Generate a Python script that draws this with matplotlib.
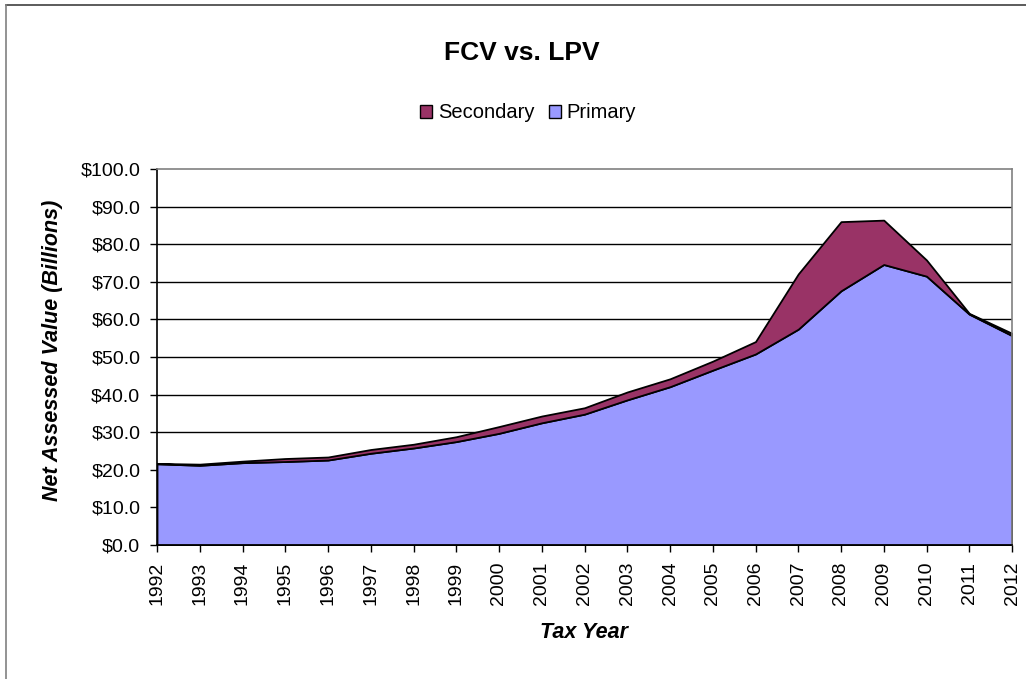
import matplotlib
matplotlib.use("Agg")
import matplotlib.pyplot as plt
from matplotlib.patches import Patch
from matplotlib.lines import Line2D

# Data (billions of dollars)
years = list(range(1992, 2013))
primary = [21.6, 21.2, 21.9, 22.2, 22.6, 24.4, 25.8, 27.5, 29.7, 32.5, 34.8,
           38.6, 42.1, 46.5, 50.8, 57.4, 67.6, 74.6, 71.5, 61.4, 55.7]
secondary = [0.1, 0.3, 0.4, 0.8, 0.8, 1.0, 1.0, 1.3, 1.8, 1.8, 1.7,
             2.1, 2.1, 2.4, 3.3, 14.7, 18.4, 11.8, 4.3, 0.2, 0.6]
y_ticks = [0, 10, 20, 30, 40, 50, 60, 70, 80, 90, 100]

primary_color = '#9999FF'
secondary_color = '#993366'

plt.rcParams['font.family'] = ['Liberation Sans', 'DejaVu Sans']

W, H = 1026, 679
fig = plt.figure(figsize=(W / 100, H / 100), dpi=100)
# plot area: x 157..1012, y 169..545 (pixels from top)
ax = fig.add_axes([157 / W, (H - 545) / H, 855 / W, 376 / H])

# Stacked area: primary at the bottom, secondary on top
ax.stackplot(years, primary, secondary, colors=[primary_color, secondary_color],
             edgecolor='black', linewidth=1.3, zorder=3)

ax.set_xlim(years[0], years[-1])
ax.set_ylim(0, 100)
ax.set_xticks(years)
ax.set_xticklabels([str(y) for y in years], rotation=90, fontsize=14)
ax.set_yticks(y_ticks)
ax.set_yticklabels([f'${v:.1f}' for v in y_ticks], fontsize=14)
ax.tick_params(axis='both', direction='out', length=5, width=1, color='black')
ax.tick_params(axis='x', pad=7)
ax.tick_params(axis='y', pad=7)

# Gridlines (black), top border grey
for v in y_ticks[1:-1]:
    ax.axhline(v, color='black', linewidth=1, zorder=1)

ax.spines['left'].set_color('black')
ax.spines['bottom'].set_color('black')
ax.spines['left'].set_linewidth(1.2)
ax.spines['bottom'].set_linewidth(1.2)
ax.spines['top'].set_color('#808080')
ax.spines['right'].set_color('#808080')
ax.spines['top'].set_linewidth(1.2)
ax.spines['right'].set_linewidth(1.2)
for s in ax.spines.values():
    s.set_zorder(5)

# Axis titles
fig.text(584 / W, 1 - 632 / H, 'Tax Year', ha='center', va='center',
         fontsize=15.5, fontweight='bold', fontstyle='italic')
fig.text(53 / W, 1 - 350 / H, 'Net Assessed Value (Billions)', ha='center', va='center',
         rotation=90, fontsize=15.5, fontweight='bold', fontstyle='italic')

fig.text(522 / W, 1 - 53 / H, 'FCV vs. LPV', ha='center', va='center',
         fontsize=19, fontweight='bold')

handles = [Patch(facecolor=secondary_color, edgecolor='black', label='Secondary'),
           Patch(facecolor=primary_color, edgecolor='black', label='Primary')]
fig.legend(handles=handles, loc='center', bbox_to_anchor=(528 / W, 1 - 113 / H),
           ncol=2, frameon=False, fontsize=14.5, handlelength=0.6, handleheight=0.6,
           handletextpad=0.3, columnspacing=0.7, borderpad=0, borderaxespad=0)

# Outer chart border (top and left visible)
fig.add_artist(Line2D([6 / W, 1], [1 - 5 / H, 1 - 5 / H],
                      transform=fig.transFigure, color='#404040', linewidth=1.2))
fig.add_artist(Line2D([6 / W, 6 / W], [0, 1 - 5 / H],
                      transform=fig.transFigure, color='#808080', linewidth=1.2))

fig.savefig('out.png', dpi=100)
